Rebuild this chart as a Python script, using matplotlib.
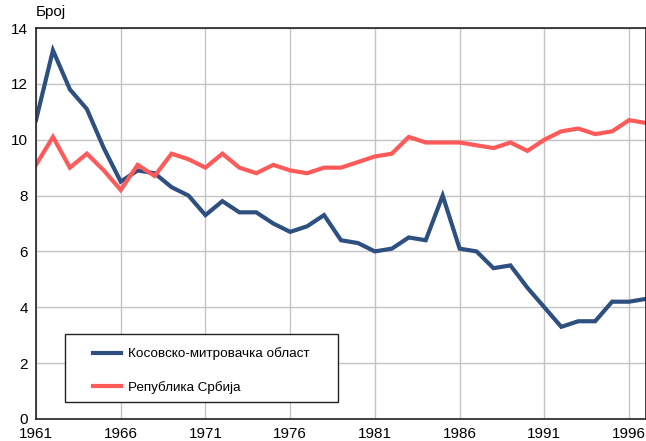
import matplotlib
matplotlib.use("Agg")
import matplotlib.pyplot as plt
from matplotlib.patches import Rectangle

plt.rcParams['font.family'] = ['Liberation Sans', 'DejaVu Sans']

years = list(range(1961, 1998))
kosovska = [10.7, 13.2, 11.8, 11.1, 9.7, 8.5, 8.9, 8.8, 8.3, 8.0,
            7.3, 7.8, 7.4, 7.4, 7.0, 6.7, 6.9, 7.3, 6.4, 6.3,
            6.0, 6.1, 6.5, 6.4, 8.0, 6.1, 6.0, 5.4, 5.5, 4.7,
            4.0, 3.3, 3.5, 3.5, 4.2, 4.2, 4.3]
srbija = [9.1, 10.1, 9.0, 9.5, 8.9, 8.2, 9.1, 8.7, 9.5, 9.3,
          9.0, 9.5, 9.0, 8.8, 9.1, 8.9, 8.8, 9.0, 9.0, 9.2,
          9.4, 9.5, 10.1, 9.9, 9.9, 9.9, 9.8, 9.7, 9.9, 9.6,
          10.0, 10.3, 10.4, 10.2, 10.3, 10.7, 10.6]
xticks = [1961, 1966, 1971, 1976, 1981, 1986, 1991, 1996]
yticks = [0, 2, 4, 6, 8, 10, 12, 14]
label_k = "Косовско-митровачка област"
label_s = "Република Србија"
ylabel = "Број"

fig = plt.figure(figsize=(6.46, 4.41), dpi=100)
ax = fig.add_axes([36/646, 1 - 419/441, 610/646, 391/441])

ax.plot(years, kosovska, color='#2E5080', lw=3, label=label_k, solid_joinstyle='miter')
ax.plot(years, srbija, color='#FF5A5A', lw=3, label=label_s, solid_joinstyle='miter')

ax.set_xlim(1961, 1997)
ax.set_ylim(0, 14)
ax.set_xticks(xticks)
ax.set_yticks(yticks)
ax.tick_params(length=0, labelsize=11, pad=6)
ax.grid(True, color='#C4C4C4', lw=1)
ax.set_axisbelow(True)
for s in ax.spines.values():
    s.set_color('#222222')
    s.set_linewidth(1.2)

ax.text(0, 1.022, ylabel, transform=ax.transAxes, ha='left', va='bottom', fontsize=11)

# legend frame
ax.add_patch(Rectangle((0.0475, 0.0435), 0.4475, 0.174, transform=ax.transAxes,
                       facecolor='white', edgecolor='#222222', lw=1.0, zorder=4))
leg = ax.legend(loc='upper left', bbox_to_anchor=(0.0934, 0.183),
                fontsize=9.7, frameon=False,
                handlelength=2.1, handletextpad=0.5, labelspacing=1.55,
                borderpad=0, borderaxespad=0)
leg.set_zorder(5)

fig.savefig("out.png", dpi=100)
